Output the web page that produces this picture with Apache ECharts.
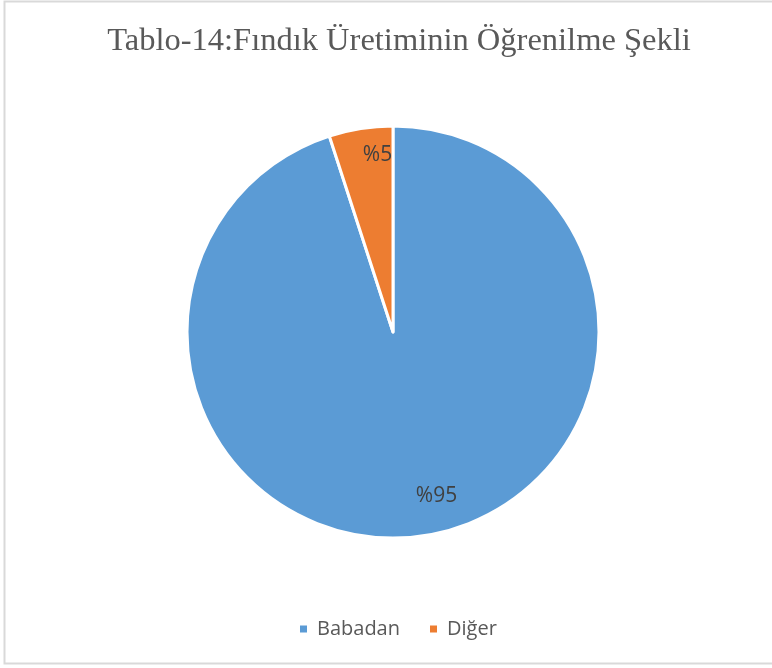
<!DOCTYPE html>
<html>
<head>
<meta charset="utf-8">
<script src="https://cdn.jsdelivr.net/npm/echarts@6/dist/echarts.min.js"></script>
<style>
  html, body { margin: 0; padding: 0; background: #fff; }
  #chart { width: 772px; height: 668px; }
</style>
</head>
<body>
<div id="chart"></div>
<script>
const titleText = 'Tablo-14:Fındık Üretiminin Öğrenilme Şekli'
const categories = ['Babadan', 'Diğer']
const values = [95, 5]
const colors = ['#5B9BD5', '#ED7D31']

const chart = echarts.init(document.getElementById('chart'))

// pie data built from the arrays above
const pieData = categories.map((name, i) => ({ name, value: values[i] }))

// nudge labels to where the original puts them
const labelShift = [[16, -10], [12, -3]]

const opt = {
  animation: false,
  color: colors,
  title: {
    text: titleText,
    left: 394,
    textAlign: 'center',
    top: 20,
    textStyle: {
      fontFamily: 'Liberation Serif',
      fontWeight: 'normal',
      fontSize: 32.5,
      color: '#595959'
    }
  },
  legend: {
    bottom: 29,
    left: 298,
    padding: 0,
    icon: 'rect',
    itemWidth: 9,
    itemHeight: 9,
    itemGap: 28,
    textStyle: { fontFamily: 'Open Sans', fontSize: 20, color: '#595959', padding: [0, 0, 0, 4] },
    data: categories
  },
  graphic: [{
    type: 'rect',
    shape: { x: 4.5, y: 1.5, width: 800, height: 662 },
    style: { fill: 'none', stroke: '#d9d9d9', lineWidth: 2 },
    silent: true
  }],
  series: [
    {
      type: 'pie',
      center: [393, 332],
      radius: [0, 206],
      startAngle: 90,
      clockwise: true,
      data: pieData,
      itemStyle: { borderColor: '#fff', borderWidth: 3 },
      label: { show: false },
      labelLine: { show: false }
    },
    // transparent ring used only to place labels near the rim
    {
      type: 'pie',
      center: [393, 332],
      radius: [140, 206],
      startAngle: 90,
      clockwise: true,
      silent: true,
      data: pieData,
      itemStyle: { color: 'transparent' },
      label: {
        show: true,
        position: 'inside',
        formatter: p => '%' + p.value,
        fontFamily: 'Open Sans',
        fontSize: 21,
        color: '#404040'
      },
      labelLine: { show: false },
      labelLayout: p => ({ dx: labelShift[p.dataIndex][0], dy: labelShift[p.dataIndex][1] })
    }
  ]
}
chart.setOption(opt)
</script>
</body>
</html>
